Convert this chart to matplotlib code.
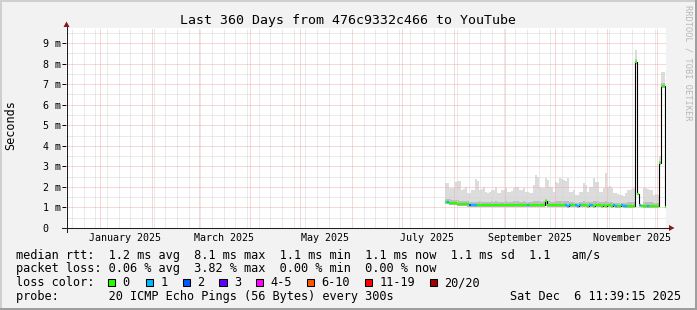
import numpy as np
import matplotlib
matplotlib.use('Agg')
import matplotlib.pyplot as plt
import matplotlib.dates as mdates
from matplotlib.transforms import Affine2D
from matplotlib.patches import Rectangle, Polygon
from matplotlib.lines import Line2D
from datetime import datetime, timedelta

plt.rcParams['font.family'] = ['DejaVu Sans Mono']

W, H = 697, 310

# time window of the graph
t_end = datetime(2025, 12, 6, 11, 39, 15)
t_start = t_end - timedelta(days=360)
data_start = datetime(2025, 7, 26, 21, 0)
step_days = 1.2

# median rtt per step (ms)
median = [1.25, 1.25, 1.24, 1.21, 1.20, 1.20, 1.19, 1.17, 1.17, 1.16,
          1.16, 1.15, 1.13, 1.12, 1.12, 1.11, 1.12, 1.12, 1.11, 1.12,
          1.11, 1.10, 1.11, 1.12, 1.11, 1.11, 1.10, 1.11, 1.12, 1.11,
          1.10, 1.11, 1.12, 1.11, 1.10, 1.11, 1.11, 1.12, 1.11, 1.10,
          1.11, 1.10, 1.11, 1.12, 1.11, 1.10, 1.11, 1.12, 1.11, 1.12,
          1.32, 1.12, 1.11, 1.10, 1.11, 1.10, 1.11, 1.12, 1.11, 1.10,
          1.10, 1.09, 1.10, 1.11, 1.10, 1.10, 1.09, 1.10, 1.10, 1.11,
          1.10, 1.09, 1.10, 1.10, 1.09, 1.10, 1.11, 1.10, 1.09, 1.10,
          1.09, 1.10, 1.10, 1.09, 1.10, 1.09, 1.08, 1.09, 1.10, 1.09,
          1.08, 1.09, 1.09, 1.08, 1.09, 8.10, 1.65, 1.10, 1.09, 1.08,
          1.09, 1.09, 1.08, 1.09, 1.08, 1.09, 1.08, 3.15, 6.90, 6.90,
          1.04]

# top of the smoke (slowest ping)
smoke_max = [2.17, 2.17, 1.93, 1.93, 1.95, 2.25, 2.30, 2.30, 1.84, 1.90,
             2.00, 1.70, 1.69, 1.84, 1.84, 2.37, 2.30, 1.84, 1.90, 2.00,
             1.75, 1.70, 1.76, 1.84, 1.85, 2.00, 1.70, 1.70, 1.84, 1.84,
             1.93, 1.76, 1.75, 1.78, 1.93, 2.00, 2.00, 1.84, 1.84, 1.93,
             1.76, 1.75, 1.69, 1.70, 2.09, 2.58, 2.50, 2.00, 1.93, 1.93,
             2.41, 2.35, 2.00, 2.00, 1.76, 2.25, 2.20, 2.41, 2.40, 2.33,
             2.30, 2.41, 1.76, 1.75, 1.84, 1.60, 1.62, 1.76, 1.76, 2.17,
             2.10, 1.76, 2.00, 2.00, 2.41, 2.25, 2.25, 1.76, 1.76, 1.95,
             2.70, 2.00, 2.05, 1.95, 1.69, 1.69, 1.65, 1.60, 1.60, 1.55,
             1.70, 1.85, 1.85, 1.90, 1.93, 8.66, 1.70, 1.15, 1.18, 1.93,
             1.93, 1.90, 1.85, 1.85, 1.60, 1.65, 1.60, 3.50, 7.60, 7.60,
             1.10]

# top of the dense part of the smoke
smoke_mid = [1.42, 1.42, 1.40, 1.38, 1.36, 1.36, 1.35, 1.33, 1.32, 1.30,
             1.30, 1.29, 1.28, 1.27, 1.27, 1.26, 1.28, 1.29, 1.27, 1.28,
             1.27, 1.26, 1.27, 1.29, 1.28, 1.30, 1.26, 1.27, 1.28, 1.28,
             1.29, 1.27, 1.27, 1.28, 1.29, 1.30, 1.29, 1.28, 1.27, 1.29,
             1.27, 1.26, 1.26, 1.27, 1.30, 1.33, 1.32, 1.29, 1.28, 1.29,
             1.42, 1.31, 1.29, 1.28, 1.26, 1.30, 1.29, 1.31, 1.31, 1.30,
             1.29, 1.30, 1.26, 1.26, 1.27, 1.24, 1.24, 1.26, 1.26, 1.29,
             1.28, 1.26, 1.28, 1.28, 1.31, 1.29, 1.29, 1.26, 1.25, 1.27,
             1.33, 1.28, 1.28, 1.27, 1.24, 1.24, 1.23, 1.23, 1.23, 1.22,
             1.24, 1.26, 1.26, 1.27, 1.27, 8.20, 1.68, 1.13, 1.14, 1.26,
             1.26, 1.25, 1.25, 1.25, 1.22, 1.23, 1.22, 3.25, 7.05, 7.05,
             1.06]

# bottom of the smoke (fastest ping)
smoke_lo = [1.16, 1.15, 1.14, 1.12, 1.11, 1.10, 1.09, 1.07, 1.06, 1.05,
            1.05, 1.04, 1.03, 1.02, 1.02, 1.01, 1.02, 1.02, 1.01, 1.02,
            1.01, 1.00, 1.01, 1.02, 1.01, 1.01, 1.00, 1.01, 1.02, 1.01,
            1.00, 1.01, 1.02, 1.01, 1.00, 1.01, 1.01, 1.02, 1.01, 1.00,
            1.01, 1.00, 1.01, 1.02, 1.01, 1.00, 1.01, 1.02, 1.01, 1.02,
            1.05, 1.02, 1.01, 1.00, 1.01, 1.00, 1.01, 1.02, 1.01, 1.00,
            1.00, 0.99, 1.00, 1.01, 1.00, 1.00, 0.99, 1.00, 1.00, 1.01,
            1.00, 0.99, 1.00, 1.00, 0.99, 1.00, 1.01, 1.00, 0.99, 1.00,
            0.99, 1.00, 1.00, 0.99, 1.00, 0.99, 0.98, 0.99, 1.00, 0.99,
            0.98, 0.99, 0.99, 0.98, 0.99, 8.00, 1.60, 1.02, 1.01, 0.99,
            0.99, 0.99, 0.98, 0.99, 0.98, 0.99, 0.98, 3.05, 6.80, 6.80,
            0.98]

# loss class per step (index into loss_colors)
loss = [0, 1, 0, 0, 0, 0, 0, 0, 0, 0,
        0, 0, 2, 1, 1, 1, 0, 0, 0, 0,
        0, 0, 0, 0, 0, 0, 0, 0, 0, 0,
        0, 0, 0, 0, 0, 0, 0, 0, 0, 0,
        0, 1, 0, 0, 0, 0, 0, 0, 0, 0,
        0, 0, 0, 0, 0, 0, 0, 0, 0, 0,
        1, 1, 1, 0, 0, 1, 1, 1, 0, 0,
        0, 0, 1, 1, 0, 0, 0, 0, 0, 0,
        0, 0, 0, 0, 1, 1, 0, 0, 1, 1,
        1, 0, 0, 0, 0, 0, 0, 1, 0, 0,
        0, 1, 0, 0, 0, 0, 0, 0, 0, 0,
        0]

loss_colors = ['#26ff00', '#00b8ff', '#0059ff', '#5e00ff',
               '#ff00ff', '#ff5500', '#ff0000', '#a00000']
loss_labels = ['0', '1', '2', '3', '4-5', '6-10', '11-19', '20/20']

title = 'Last 360 Days from 476c9332c466 to YouTube'
rtt_line = 'median rtt:  1.2 ms avg  8.1 ms max  1.1 ms min  1.1 ms now  1.1 ms sd  1.1   am/s'
loss_line = 'packet loss: 0.06 % avg  3.82 % max  0.00 % min  0.00 % now'
probe_line = 'probe:       20 ICMP Echo Pings (56 Bytes) every 300s'
stamp = 'Sat Dec  6 11:39:15 2025'

fig = plt.figure(figsize=(W / 100, H / 100), dpi=100, facecolor='#f2f2f2')
px = Affine2D().scale(1 / W, -1 / H).translate(0, 1) + fig.transFigure

ax = fig.add_axes([66 / W, 82 / H, 600 / W, 200 / H])
ax.set_facecolor('white')
for s in ax.spines.values():
    s.set_visible(False)

ax.set_xlim(t_start, t_end)
ax.set_ylim(0, 9.73)

# dotted grid
grid_c = '#d6d6d6'
mgrid_c = '#f4b0b0'
gkw = dict(lw=0.72, ls=(0, (1, 1)))
months = mdates.MonthLocator().tick_values(t_start, t_end)
weeks = mdates.WeekdayLocator(byweekday=mdates.SU).tick_values(t_start, t_end)
for w in weeks:
    if w not in months:
        ax.axvline(w, color=grid_c, zorder=1.5, **gkw)
for m in months:
    ax.axvline(m, color=mgrid_c, zorder=1.6, **gkw)
for v in np.arange(0.5, 9.8, 0.5):
    if v % 1:
        ax.axhline(v, color=grid_c, zorder=1.5, **gkw)
    else:
        ax.axhline(v, color=mgrid_c, zorder=1.6, **gkw)

# smoke and median
n = len(median)
edges = mdates.date2num(data_start) + np.arange(n + 1) * step_days
ax.stairs(smoke_max, edges, baseline=smoke_lo, fill=True, color='#dcdcdc', lw=0, zorder=1)
ax.stairs(smoke_mid, edges, baseline=smoke_lo, fill=True, color='#bdbdbd', lw=0, zorder=1.1)
ax.stairs(median, edges, baseline=None, color='black', lw=0.8, zorder=3)
ax.hlines(median, edges[:-1], edges[1:], colors=[loss_colors[k] for k in loss],
          lw=1.6, zorder=4, capstyle='butt')

# ticks
ax.set_yticks(range(10))
ax.set_yticklabels(['0'] + [f'{i} m' for i in range(1, 10)])
for lab in ax.get_yticklabels():
    lab.set_horizontalalignment('left')
ax.tick_params(axis='y', length=2.9, width=0.72, pad=14, labelsize=7.2, colors='black')
ax.xaxis.set_major_locator(mdates.MonthLocator(bymonth=range(1, 13, 2), bymonthday=16))
ax.xaxis.set_major_formatter(mdates.DateFormatter('%B %Y'))
ax.tick_params(axis='x', length=0, pad=3.6, labelsize=7.2)

# axis lines with arrows
fig.add_artist(Line2D([62, 669], [228, 228], transform=px, color='#1f1f1f', lw=0.75))
fig.add_artist(Line2D([66.5, 66.5], [232, 27], transform=px, color='#1f1f1f', lw=0.75))
fig.add_artist(Polygon([[669, 225], [669, 231], [674.5, 228]], closed=True,
                       transform=px, color='#801f1f', lw=0))
fig.add_artist(Polygon([[63.5, 27], [69.5, 27], [66.5, 21.5]], closed=True,
                       transform=px, color='#801f1f', lw=0))

# frame
fig.add_artist(Rectangle((0, 0), W, 2, transform=px, color='#cfcfcf', lw=0))
fig.add_artist(Rectangle((0, 0), 2, H, transform=px, color='#cfcfcf', lw=0))
fig.add_artist(Rectangle((0, H - 2), W, 2, transform=px, color='#9e9e9e', lw=0))
fig.add_artist(Rectangle((W - 2, 0), 2, H, transform=px, color='#9e9e9e', lw=0))

# texts
fig.text(348, 24, title, transform=px, ha='center', va='baseline', fontsize=9.57)
fig.text(11, 125, 'Seconds', transform=px, rotation=90, ha='center', va='center', fontsize=8.5)
fig.text(688, 5, 'RRDTOOL / TOBI OETIKER', transform=px, rotation=-90, ha='center',
         va='top', fontsize=6.2, color='#b8b8b8')

leg_fs = 8.53
fig.text(15.5, 258.5, rtt_line, transform=px, ha='left', va='baseline', fontsize=leg_fs)
fig.text(15.5, 272.3, loss_line, transform=px, ha='left', va='baseline', fontsize=leg_fs)
fig.text(15.5, 286, 'loss color:', transform=px, ha='left', va='baseline', fontsize=leg_fs)
fig.text(15.5, 300, probe_line, transform=px, ha='left', va='baseline', fontsize=leg_fs)
fig.text(680.5, 300, stamp, transform=px, ha='right', va='baseline', fontsize=leg_fs)

box_x = [108, 145.7, 182.7, 219.3, 256, 306.7, 365, 430]
for bx, col, lab in zip(box_x, loss_colors, loss_labels):
    fig.add_artist(Rectangle((bx, 278.5), 7.3, 7.3, transform=px, facecolor=col,
                             edgecolor='black', lw=0.75))
    fig.text(bx + 14.5, 286, lab, transform=px, ha='left', va='baseline', fontsize=leg_fs)

fig.savefig('out.png', dpi=100, facecolor=fig.get_facecolor())
